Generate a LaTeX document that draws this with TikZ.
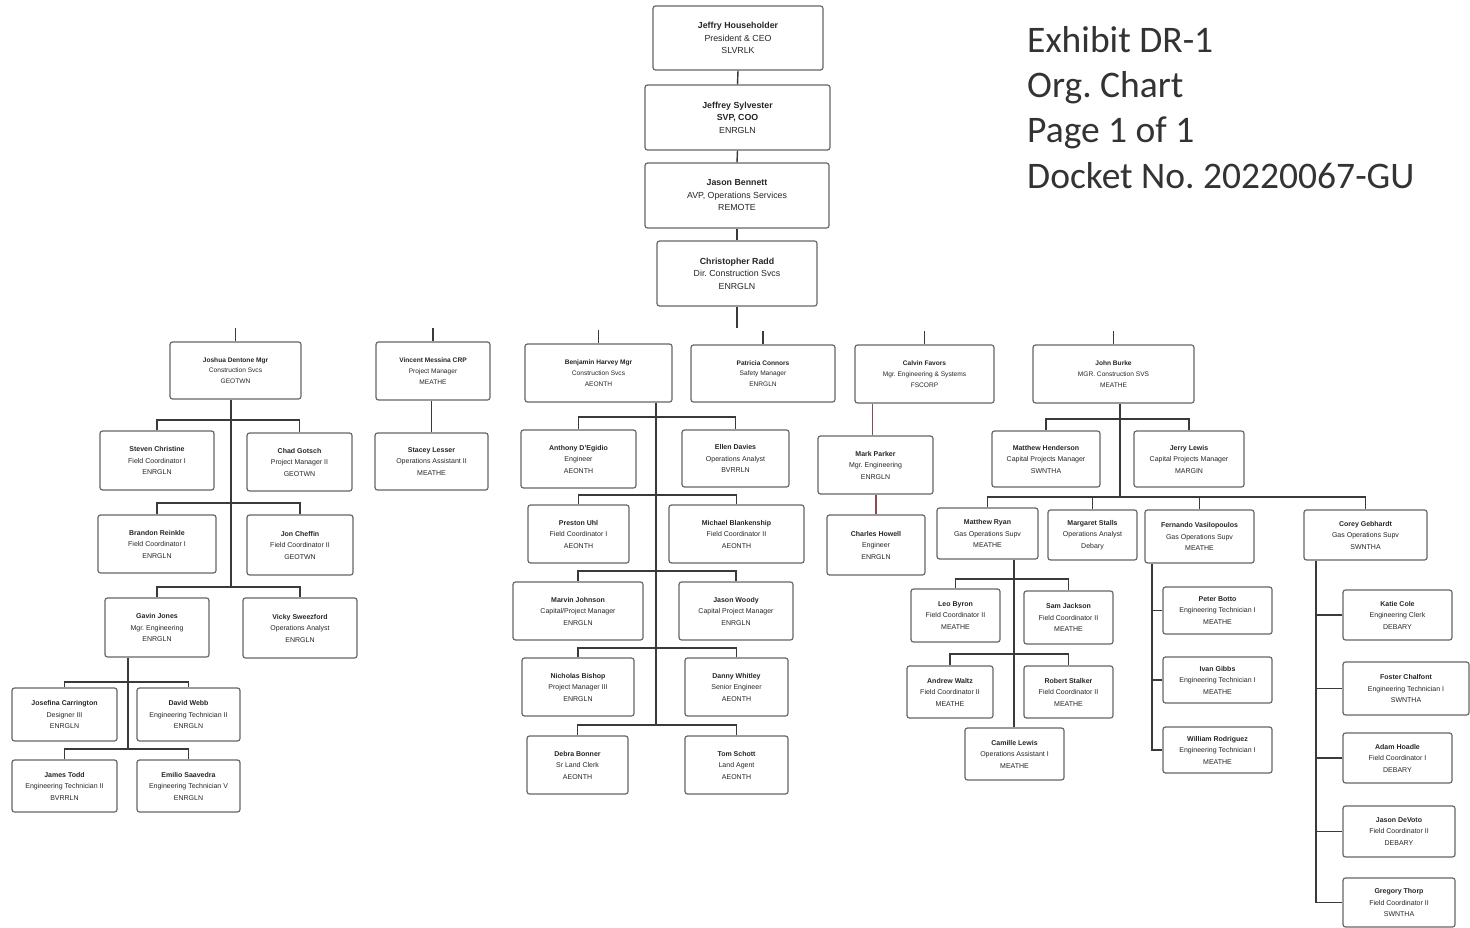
\documentclass[tikz,border=0pt]{standalone}
\usepackage{fontspec}
\setmainfont{Liberation Sans}
\newfontfamily\calfont{Carlito}
\frenchspacing
\definecolor{lnc}{HTML}{3A3A3A}
\definecolor{boxc}{HTML}{666666}
\definecolor{txt}{HTML}{262626}
\definecolor{redl}{HTML}{8B4A55}
\definecolor{exc}{HTML}{333333}
\tikzset{
  ob/.style={draw=boxc, line width=1.2pt, rounded corners=2.5pt, fill=white, align=center, inner sep=1pt, text=txt, font=\fontsize{7}{11.5}\selectfont},
  big/.style={font=\fontsize{8.8}{12.5}\selectfont},
  mid/.style={font=\fontsize{6.6}{10.8}\selectfont},
  cn/.style={draw=lnc, line width=1.4pt},
  rc/.style={draw=redl, line width=1.2pt},
  ex/.style={anchor=base west, inner sep=0pt, text=exc, font=\calfont\fontsize{37.5}{45}\selectfont},
}
\newcommand\obox[7]{\node[ob,#6,minimum width={(#4-#2)*1pt},minimum height={(#5-#3)*1pt}] (#1) at ({(#2+#4)/2},{(#3+#5)/2}) {#7};}
\begin{document}
\begin{tikzpicture}[x=1pt,y=-1pt]
\fill[white] (0,0) rectangle (1470,928);
\useasboundingbox (0,0) rectangle (1470,928);

% Exhibit label
\node[ex] (ex1) at (1027,53) {Exhibit DR-1};
\node[ex] (ex2) at (1027,98) {Org. Chart};
\node[ex] (ex3) at (1027,143) {Page 1 of 1};
\node[ex] (ex4) at (1027,189) {Docket No. 20220067-GU};

% Top chain
\obox{hh}{653}{6}{823}{70}{big}{\textbf{Jeffry Householder}\\President \& CEO\\SLVRLK}
\obox{syl}{645}{85}{830}{150}{big}{\textbf{Jeffrey Sylvester}\\\textbf{SVP,\ COO}\\ENRGLN}
\obox{ben}{645}{163}{829}{228}{big}{\textbf{Jason Bennett}\\AVP, Operations Services\\REMOTE}
\obox{radd}{657}{241}{817}{306}{big}{\textbf{Christopher Radd}\\Dir. Construction Svcs\\ENRGLN}

% Level 2
\obox{dent}{170}{342}{301}{399}{mid}{\textbf{Joshua Dentone Mgr}\\Construction Svcs\\GEOTWN}
\obox{mess}{376}{342}{490}{400}{mid}{\textbf{Vincent Messina CRP}\\Project Manager\\MEATHE}
\obox{harv}{525}{344}{672}{402}{mid}{\textbf{Benjamin Harvey Mgr}\\Construction Svcs\\AEONTH}
\obox{conn}{691}{345}{835}{402}{mid}{\textbf{Patricia Connors}\\Safety Manager\\ENRGLN}
\obox{fav}{855}{345}{994}{403}{mid}{\textbf{Calvin Favors}\\Mgr. Engineering \& Systems\\FSCORP}
\obox{burke}{1033}{345}{1194}{403}{mid}{\textbf{John Burke}\\MGR. Construction SVS\\MEATHE}

% Dentone subtree
\obox{chris}{100}{431}{214}{490}{}{\textbf{Steven Christine}\\Field Coordinator I\\ENRGLN}
\obox{gots}{247}{433}{352}{491}{}{\textbf{Chad Gotsch}\\Project Manager II\\GEOTWN}
\obox{rein}{98}{515}{216}{573}{}{\textbf{Brandon Reinkle}\\Field Coordinator I\\ENRGLN}
\obox{cheff}{247}{515}{353}{575}{}{\textbf{Jon Cheffin}\\Field Coordinator II\\GEOTWN}
\obox{jones}{105}{598}{209}{657}{}{\textbf{Gavin Jones}\\Mgr. Engineering\\ENRGLN}
\obox{swee}{243}{598}{357}{658}{}{\textbf{Vicky Sweezford}\\Operations Analyst\\ENRGLN}
\obox{carr}{12}{688}{117}{741}{}{\textbf{Josefina Carrington}\\Designer III\\ENRGLN}
\obox{webb}{137}{688}{240}{741}{}{\textbf{David Webb}\\Engineering Technician II\\ENRGLN}
\obox{todd}{12}{760}{117}{812}{}{\textbf{James Todd}\\Engineering Technician II\\BVRRLN}
\obox{saav}{137}{760}{240}{812}{}{\textbf{Emilio Saavedra}\\Engineering Technician V\\ENRGLN}

% Messina subtree
\obox{less}{375}{433}{488}{490}{}{\textbf{Stacey Lesser}\\Operations Assistant II\\MEATHE}

% Harvey subtree
\obox{dege}{521}{430}{636}{488}{}{\textbf{Anthony D'Egidio}\\Engineer\\AEONTH}
\obox{davi}{682}{430}{789}{487}{}{\textbf{Ellen Davies}\\Operations Analyst\\BVRRLN}
\obox{uhl}{528}{505}{629}{563}{}{\textbf{Preston Uhl}\\Field Coordinator I\\AEONTH}
\obox{blank}{669}{505}{804}{563}{}{\textbf{Michael Blankenship}\\Field Coordinator II\\AEONTH}
\obox{john}{513}{582}{643}{640}{}{\textbf{Marvin Johnson}\\Capital/Project Manager\\ENRGLN}
\obox{wood}{679}{582}{793}{640}{}{\textbf{Jason Woody}\\Capital Project Manager\\ENRGLN}
\obox{bish}{522}{658}{634}{716}{}{\textbf{Nicholas Bishop}\\Project Manager III\\ENRGLN}
\obox{whit}{685}{658}{788}{716}{}{\textbf{Danny Whitley}\\Senior Engineer\\AEONTH}
\obox{bonn}{527}{736}{628}{794}{}{\textbf{Debra Bonner}\\Sr Land Clerk\\AEONTH}
\obox{scho}{685}{736}{788}{794}{}{\textbf{Tom Schott}\\Land Agent\\AEONTH}

% Favors subtree
\obox{park}{818}{436}{933}{494}{}{\textbf{Mark Parker}\\Mgr. Engineering\\ENRGLN}
\obox{howe}{827}{515}{925}{575}{}{\textbf{Charles Howell}\\Engineer\\ENRGLN}

% Burke subtree
\obox{hend}{992}{431}{1100}{487}{}{\textbf{Matthew Henderson}\\Capital Projects Manager\\SWNTHA}
\obox{lewj}{1134}{431}{1244}{487}{}{\textbf{Jerry Lewis}\\Capital Projects Manager\\MARGIN}
\obox{ryan}{937}{508}{1038}{559}{}{\textbf{Matthew Ryan}\\Gas Operations Supv\\MEATHE}
\obox{stal}{1048}{510}{1137}{560}{}{\textbf{Margaret Stalls}\\Operations Analyst\\Debary}
\obox{vasi}{1145}{510}{1254}{563}{}{\textbf{Fernando Vasilopoulos}\\Gas Operations Supv\\MEATHE}
\obox{geb}{1304}{510}{1427}{560}{}{\textbf{Corey Gebhardt}\\Gas Operations Supv\\SWNTHA}

\obox{byr}{911}{589}{1000}{642}{}{\textbf{Leo Byron}\\Field Coordinator II\\MEATHE}
\obox{jack}{1024}{591}{1113}{644}{}{\textbf{Sam Jackson}\\Field Coordinator II\\MEATHE}
\obox{waltz}{907}{666}{993}{718}{}{\textbf{Andrew Waltz}\\Field Coordinator II\\MEATHE}
\obox{stalk}{1024}{666}{1113}{718}{}{\textbf{Robert Stalker}\\Field Coordinator II\\MEATHE}
\obox{cam}{965}{728}{1064}{780}{}{\textbf{Camille Lewis}\\Operations Assistant I\\MEATHE}

\obox{botto}{1163}{587}{1272}{634}{}{\textbf{Peter Botto}\\Engineering Technician I\\MEATHE}
\obox{gibbs}{1163}{657}{1272}{703}{}{\textbf{Ivan Gibbs}\\Engineering Technician I\\MEATHE}
\obox{rodr}{1163}{727}{1272}{773}{}{\textbf{William Rodriguez}\\Engineering Technician I\\MEATHE}

\obox{cole}{1343}{590}{1452}{640}{}{\textbf{Katie Cole}\\Engineering Clerk\\DEBARY}
\obox{chal}{1343}{662}{1469}{715}{}{\textbf{Foster Chalfont}\\Engineering Technician I\\SWNTHA}
\obox{adam}{1343}{733}{1452}{783}{}{\textbf{Adam Hoadle}\\Field Coordinator I\\DEBARY}
\obox{jas}{1343}{806}{1455}{857}{}{\textbf{Jason DeVoto}\\Field Coordinator II\\DEBARY}
\obox{greg}{1343}{878}{1455}{927}{}{\textbf{Gregory Thorp}\\Field Coordinator II\\SWNTHA}

% ---------- connectors ----------
\draw[cn] (hh.south) -- (syl.north);
\draw[cn] (syl.south) -- (ben.north);
\draw[cn] (ben.south) -- (radd.north);
\coordinate (rs) at (737,328);
\draw[cn] (radd.south) -- (radd.south |- rs);
\foreach \m in {dent,mess,harv,conn,fav,burke}{\draw[cn] (\m.north) -- ++(0,-13);}

% Dentone
\coordinate (d1) at (231,420);
\coordinate (d2) at (231,503);
\coordinate (d3) at (231,587);
\draw[cn] ([xshift=-4.5pt]dent.south) -- (d3);
\draw[cn] (chris.north) |- (d1) -| (gots.north);
\draw[cn] (rein.north) |- (d2) -| (cheff.north);
\draw[cn] (jones.north) |- (d3) -| (swee.north);
\coordinate (j1) at (128,682);
\coordinate (j2) at (128,749);
\draw[cn] ([xshift=-29pt]jones.south) -- (j2);
\draw[cn] (carr.north) |- (j1) -| (webb.north);
\draw[cn] (todd.north) |- (j2) -| (saav.north);

% Messina
\draw[cn] (less.north) -- (less.north |- mess.south);

% Harvey
\coordinate (h1) at (656,417);
\coordinate (h2) at (656,495);
\coordinate (h3) at (656,571);
\coordinate (h4) at (656,648);
\coordinate (h5) at (656,725);
\draw[cn] ([xshift=57.5pt]harv.south) -- (h5);
\draw[cn] (dege.north) |- (h1) -| (davi.north);
\draw[cn] (uhl.north) |- (h2) -| (blank.north);
\draw[cn] (john.north) |- (h3) -| (wood.north);
\draw[cn] (bish.north) |- (h4) -| (whit.north);
\draw[cn] (bonn.north) |- (h5) -| (scho.north);

% Favors
\draw[rc] ([xshift=-3pt]park.north) -- ([xshift=-3pt]park.north |- fav.south);
\draw[rc] (howe.north |- park.south) -- (howe.north);

% Burke
\coordinate (k1) at (1120,419);
\coordinate (k2) at (1120,497);
\draw[cn] ([xshift=6.5pt]burke.south) -- (k2);
\draw[cn] (hend.north) |- (k1) -| (lewj.north);
\draw[cn] (ryan.north) |- (k2) -| (geb.north);
\draw[cn] (stal.north) -- (stal.north |- k2);
\draw[cn] (vasi.north) -- (vasi.north |- k2);

% Ryan
\coordinate (r1) at (1014,579);
\coordinate (r2) at (1014,654);
\draw[cn] ([xshift=26.5pt]ryan.south) -- (cam.north -| r1);
\draw[cn] (byr.north) |- (r1) -| (jack.north);
\draw[cn] (waltz.north) |- (r2) -| (stalk.north);

% Vasilopoulos
\draw[cn] ([xshift=-47.5pt]vasi.south) |- (rodr.west);
\draw[cn] (botto.west) -- ++(-11,0);
\draw[cn] (gibbs.west) -- ++(-11,0);

% Gebhardt
\draw[cn] ([xshift=-49.5pt]geb.south) |- (greg.west);
\draw[cn] (cole.west) -- ++(-27,0);
\draw[cn] (chal.west) -- ++(-27,0);
\draw[cn] (adam.west) -- ++(-27,0);
\draw[cn] (jas.west) -- ++(-27,0);
\end{tikzpicture}
\end{document}
